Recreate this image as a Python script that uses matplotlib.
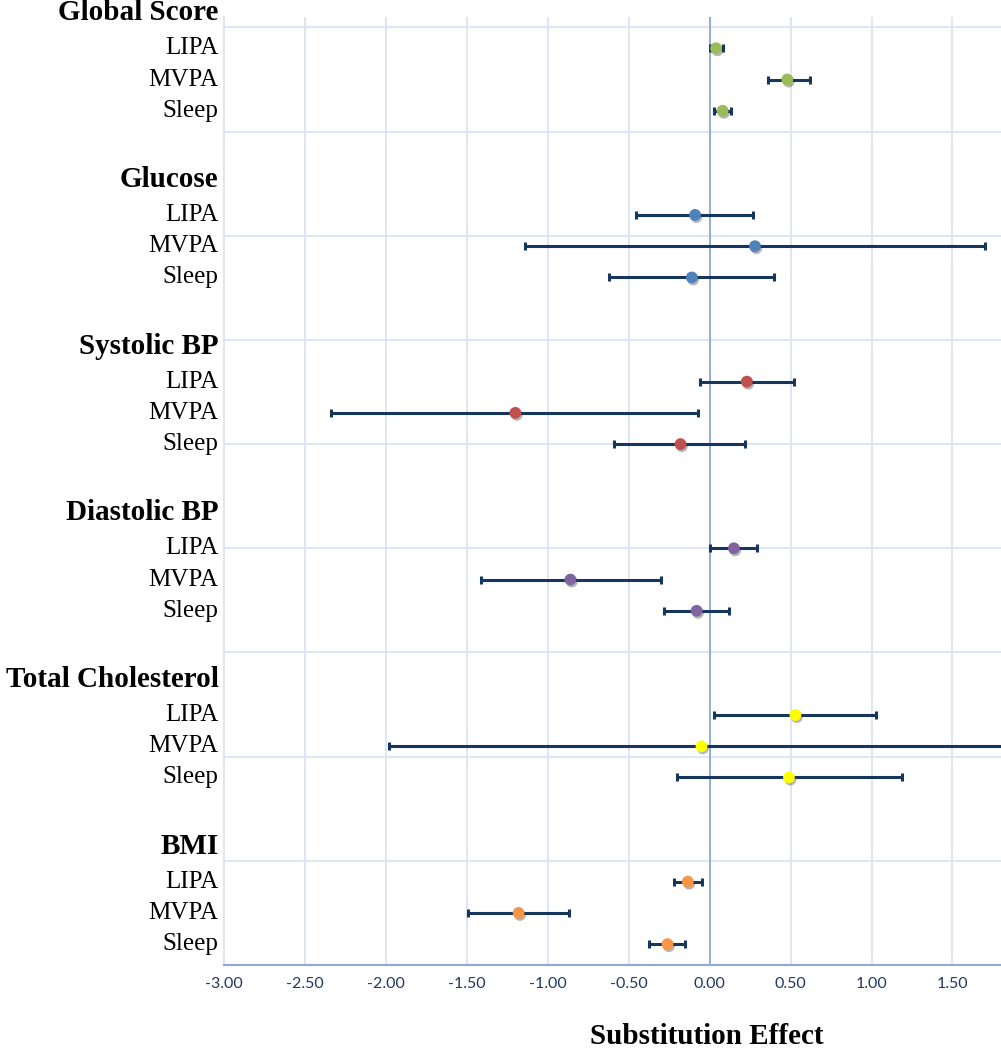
"""Forest plot of isotemporal substitution effects by outcome."""

import matplotlib

matplotlib.use("Agg")
import matplotlib.patheffects as pe
import matplotlib.pyplot as plt
import matplotlib.transforms as mtransforms
import numpy as np

# outcomes (top to bottom) and behaviours within each outcome
outcomes = ["Global Score", "Glucose", "Systolic BP", "Diastolic BP", "Total Cholesterol", "BMI"]
behaviours = ["LIPA", "MVPA", "Sleep"]

# point estimates, rows = outcomes, cols = behaviours
estimate = [
    [0.04, 0.48, 0.08],
    [-0.09, 0.28, -0.11],
    [0.23, -1.20, -0.18],
    [0.15, -0.86, -0.08],
    [0.53, -0.05, 0.49],
    [-0.135, -1.18, -0.26],
]
lower = [
    [0.005, 0.36, 0.03],
    [-0.455, -1.14, -0.62],
    [-0.06, -2.34, -0.59],
    [0.005, -1.415, -0.28],
    [0.03, -1.98, -0.20],
    [-0.22, -1.49, -0.375],
]
upper = [
    [0.08, 0.62, 0.13],
    [0.27, 1.70, 0.40],
    [0.52, -0.07, 0.22],
    [0.29, -0.30, 0.12],
    [1.03, 1.88, 1.19],
    [-0.05, -0.87, -0.15],
]
x_ticks = [-3.0, -2.5, -2.0, -1.5, -1.0, -0.5, 0.0, 0.5, 1.0, 1.5]

marker_colors = ["#9BBB59", "#4F81BD", "#C0504D", "#8064A2", "#FFFF00", "#F79646"]
bar_color = "#17365D"
grid_color = "#D9E4F5"
axis_blue = "#8EAADB"
tick_color = "#1F3864"

fig = plt.figure(figsize=(10.01, 10.5), dpi=100, facecolor="white")
ax = fig.add_axes([224 / 1001, 85 / 1050, 777 / 1001, 948 / 1050])

# layout: 3 rows per outcome, 0.3 apart, outcomes 1.6 apart
n = len(outcomes)
label_tr = mtransforms.blended_transform_factory(ax.transAxes, ax.transData)
for g in range(n):
    ys = np.array([0.2 + 1.6 * (n - 1 - g) + 0.3 * (2 - j) for j in range(3)])
    est = np.array(estimate[g])
    err = [est - np.array(lower[g]), np.array(upper[g]) - est]
    ax.errorbar(est, ys, xerr=err, fmt="none", ecolor=bar_color, elinewidth=2.2,
                capsize=2.8, capthick=2.2, zorder=3)
    ax.plot(est, ys, "o", ms=8.5, color=marker_colors[g], mec="none", zorder=4,
            path_effects=[pe.SimplePatchShadow(offset=(1.0, -1.5), shadow_rgbFace="#303030", alpha=0.35),
                          pe.Normal()])
    ax.text(-0.007, ys[0] + 0.34, outcomes[g], transform=label_tr, ha="right", va="center",
            family="Liberation Serif", fontweight="bold", fontsize=21)
    for j, b in enumerate(behaviours):
        ax.text(-0.007, ys[j], b, transform=label_tr, ha="right", va="center",
                family="Liberation Serif", fontsize=18)

ax.set_xlim(-3.0, 1.8)
ax.set_ylim(0, 9.1)
ax.set_xticks(x_ticks)
ax.set_xticklabels([f"{t:.2f}" for t in x_ticks], family="Lato", fontsize=11.5, color=tick_color)
ax.set_yticks(np.arange(1, 10))
ax.set_yticklabels([])
ax.tick_params(length=0)
ax.tick_params(axis="x", pad=9)
ax.grid(True, color=grid_color, linewidth=1.3, zorder=0)
ax.set_axisbelow(True)
ax.axvline(0, color=axis_blue, linewidth=1.3, zorder=1)

for side in ["top", "right"]:
    ax.spines[side].set_visible(False)
ax.spines["left"].set_color(grid_color)
ax.spines["left"].set_linewidth(1.3)
ax.spines["bottom"].set_color(axis_blue)
ax.spines["bottom"].set_linewidth(1.5)

fig.text(707 / 1001, 1 - 1036 / 1050, "Substitution Effect", ha="center", va="center",
         family="Liberation Serif", fontweight="bold", fontsize=21)

fig.savefig("out.png", dpi=100, facecolor="white")
